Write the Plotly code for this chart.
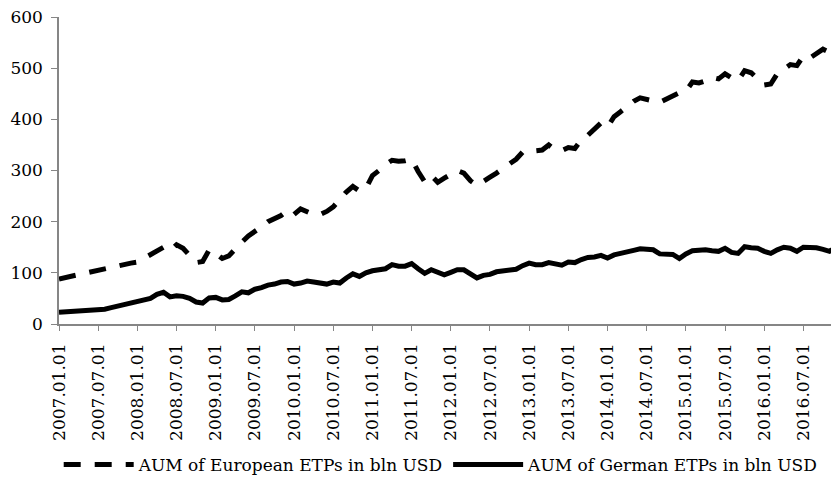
import plotly.graph_objects as go

years = list(range(2007, 2017))
months = ["%02d" % m for m in range(1, 13)]
dates = [f"{y}.{m}.01" for y in years for m in months]

european = [88, 91, 94, 97, 100, 103, 105, 108, 110, 113, 117, 119,
            121, 128, 136, 142, 150, 143, 155, 148, 135, 120, 122, 145,
            138, 128, 133, 148, 160, 172, 180, 190, 200, 207, 212, 222,
            214, 225, 220, 214, 214, 220, 229, 245, 258, 269, 260, 265,
            290, 300, 312, 320, 318, 319, 322, 298, 278, 290, 277, 285,
            292, 300, 295, 280, 271, 280, 287, 295, 305, 312, 322, 336,
            338, 340, 340, 350, 340, 339, 345, 343, 360, 369, 380, 393,
            385, 405, 415, 426, 435, 442, 440, 436, 433, 440, 447, 452,
            455, 473, 471, 475, 482, 479, 489, 481, 476, 495, 491, 480,
            467, 469, 489, 498, 507, 505, 524, 520, 530, 537, 531, 541]

german = [23, 24, 25, 25, 26, 26, 27, 29, 32, 35, 38, 40,
          42, 45, 50, 58, 62, 53, 55, 54, 50, 43, 41, 51,
          52, 47, 48, 55, 63, 61, 68, 71, 76, 78, 82, 83,
          78, 80, 84, 82, 79, 78, 82, 80, 90, 98, 93, 100,
          104, 106, 108, 116, 113, 113, 118, 108, 99, 106, 101, 96,
          101, 106, 106, 98, 90, 95, 97, 102, 104, 105, 107, 114,
          119, 116, 116, 120, 118, 115, 121, 120, 126, 130, 131, 134,
          129, 135, 138, 140, 144, 147, 145, 145, 137, 136, 136, 128,
          137, 143, 144, 145, 143, 142, 148, 140, 138, 151, 149, 148,
          142, 138, 145, 150, 148, 142, 150, 150, 149, 146, 142, 150]

tick_labels = dates[::6]
y_ticks = [0, 100, 200, 300, 400, 500, 600]

font_family = "DejaVu Serif"

fig = go.Figure()
fig.add_trace(go.Scatter(
    x=dates, y=european, mode="lines",
    name="AUM of European ETPs in bln USD",
    line=dict(color="black", width=5, dash="17px,14px"),
))
fig.add_trace(go.Scatter(
    x=dates, y=german, mode="lines",
    name="AUM of German ETPs in bln USD",
    line=dict(color="black", width=5),
))

# the page body has an 8px default margin, so the figure is made 8px smaller
fig.update_layout(
    template="none",
    width=831, height=475,
    margin=dict(l=51, r=0, t=9, b=156),
    paper_bgcolor="white", plot_bgcolor="white",
    font=dict(family=font_family, color="black", size=16),
    showlegend=True,
    legend=dict(orientation="h", x=0.49, xanchor="center", y=-0.46, yanchor="middle",
                font=dict(size=17, family=font_family), itemwidth=70,
                tracegroupgap=0, bgcolor="rgba(0,0,0,0)"),
)
fig.update_xaxes(
    type="category", range=[0, 119.45],
    tickmode="array", tickvals=tick_labels, ticktext=tick_labels,
    tickangle=-90, ticks="outside", ticklen=5, tickcolor="#868686",
    showline=True, linecolor="#868686", linewidth=1.5,
    showgrid=False, zeroline=False,
    tickfont=dict(size=17, family=font_family),
    ticklabelstandoff=6,
)
fig.update_yaxes(
    range=[0, 600], tickvals=y_ticks,
    ticks="outside", ticklen=6, tickcolor="#868686",
    showline=True, linecolor="#868686", linewidth=1.5,
    showgrid=False, zeroline=False,
    tickfont=dict(size=17, family=font_family),
    ticklabelstandoff=5, ticklabeloverflow="allow",
)

fig.write_html("out.html")
